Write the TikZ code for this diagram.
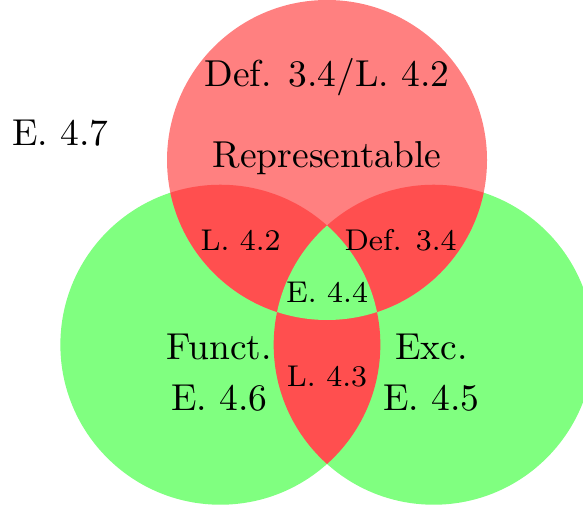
\documentclass[tikz,border=0pt]{standalone}
\usepackage{amssymb, amsmath}
\usepackage{tikz}
\usetikzlibrary{positioning}

\def\reprset{(0,0) circle (1.5)}
\def\functset{(-1,-1.732) circle (1.5)}
\def\excset{(1,-1.732) circle (1.5)}

\begin{document}
\begin{tikzpicture}[big label/.style={font=\normalsize},small label/.style={font=\footnotesize}]

		\useasboundingbox (-3.066,-3.253) rectangle (2.4,1.5);

		\fill[green!50] \functset;
		\fill[green!50] \excset;
		\fill[red!50] \reprset;
		\begin{scope}
			\clip \reprset;
			\fill[red!69] \functset;
			\fill[red!69] \excset;
		\end{scope}
		\begin{scope}
			\clip \functset;
			\fill[red!69] \excset;
		\end{scope}
		\begin{scope}
			\clip \reprset;
			\clip \functset;
			\fill[green!50] \excset;
		\end{scope}

		\node[big label] (repr) at (0,0.02) {Representable};
		\node[big label] (reprref) at (0,0.78) {Def. 3.4/L.~4.2};
		\node[big label] (e47) at (-2.5,0.25) {E.~4.7};
		\node[big label] (funct) at (-1.01,-1.75) {Funct.};
		\node[big label] (e46) at (-1.01,-2.23) {E.~4.6};
		\node[big label] (exc) at (0.98,-1.75) {Exc.};
		\node[big label] (e45) at (0.98,-2.23) {E.~4.5};
		\node[small label] (l42) at (-0.81,-0.75) {L.~4.2};
		\node[small label] (d34) at (0.69,-0.75) {Def. 3.4};
		\node[small label] (e44) at (0,-1.24) {E.~4.4};
		\node[small label] (l43) at (0,-2.03) {L.~4.3};
	\end{tikzpicture}
\end{document}
